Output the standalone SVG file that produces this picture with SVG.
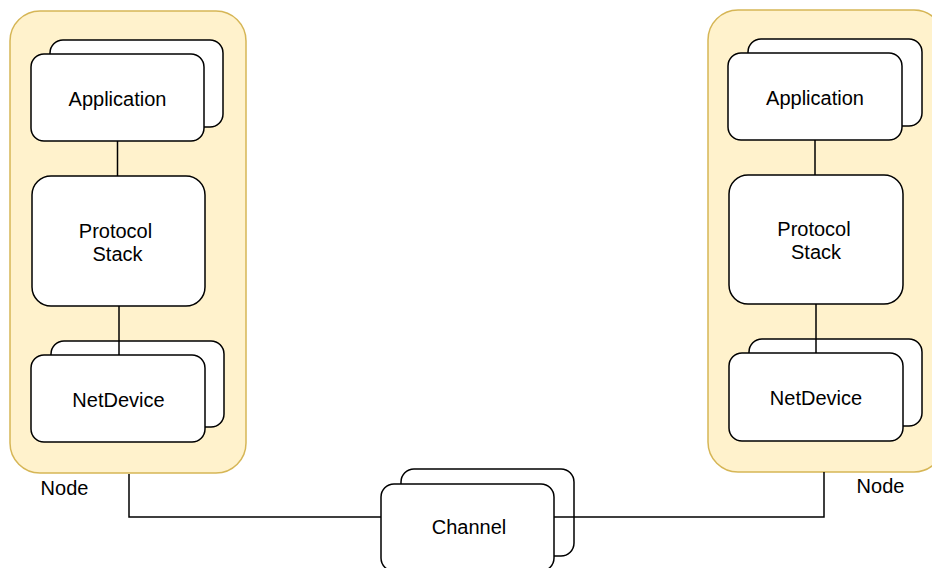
<svg xmlns="http://www.w3.org/2000/svg" width="932" height="568" viewBox="0 0 932 568">
<style>
.cont{fill:#fff2cc;stroke:#d6b656;stroke-width:1.5}
.box{fill:#ffffff;stroke:#000000;stroke-width:1.5}
.ln{fill:none;stroke:#000000;stroke-width:1.5}
text{font-family:"Liberation Sans",Arial,Helvetica,sans-serif;font-size:20px;fill:#000000;text-anchor:middle}
</style>
<rect width="932" height="568" fill="#ffffff"/>
<g id="node-left">
<rect class="cont" x="10" y="11" width="236" height="462" rx="30"/>
<text x="64.5" y="495">Node</text>
</g>
<g id="node-right">
<rect class="cont" x="708" y="10" width="236" height="462" rx="30"/>
<text x="880.5" y="493">Node</text>
</g>
<g id="connectors">
<line class="ln" x1="117.5" y1="141" x2="117.5" y2="176"/>
<line class="ln" x1="119" y1="306" x2="119" y2="355"/>
<line class="ln" x1="815" y1="140" x2="815" y2="175"/>
<line class="ln" x1="816" y1="304" x2="816" y2="353"/>
<polyline class="ln" points="129,474 129,517 381,517"/>
<polyline class="ln" points="554,517 824,517 824,472"/>
</g>
<g id="app-left">
<rect class="box" x="50" y="40" width="173" height="87" rx="13"/>
<rect class="box" x="31" y="54" width="173" height="87" rx="13"/>
<text x="117.5" y="106">Application</text>
</g>
<g id="stack-left">
<rect class="box" x="32" y="176" width="173" height="130" rx="19"/>
<text x="115.5" y="238">Protocol</text>
<text x="117.5" y="261">Stack</text>
</g>
<g id="netdev-left">
<rect class="box" x="51" y="341" width="173" height="86" rx="13"/>
<rect class="box" x="31" y="355" width="174" height="87" rx="13"/>
<line class="ln" x1="119" y1="341" x2="119" y2="355"/>
<text x="118.5" y="407">NetDevice</text>
</g>
<g id="app-right">
<rect class="box" x="748" y="39" width="174" height="87" rx="13"/>
<rect class="box" x="728" y="53" width="174" height="87" rx="13"/>
<text x="815" y="105">Application</text>
</g>
<g id="stack-right">
<rect class="box" x="729" y="175" width="174" height="129" rx="19"/>
<text x="814" y="236">Protocol</text>
<text x="816" y="259">Stack</text>
</g>
<g id="netdev-right">
<rect class="box" x="749" y="339" width="173" height="87" rx="13"/>
<rect class="box" x="729" y="353" width="174" height="88" rx="13"/>
<line class="ln" x1="816" y1="339" x2="816" y2="353"/>
<text x="816" y="405">NetDevice</text>
</g>
<g id="channel">
<rect class="box" x="401" y="469" width="173" height="87" rx="13"/>
<rect class="box" x="381" y="484" width="173" height="87" rx="13"/>
<line class="ln" x1="554" y1="517" x2="574" y2="517"/>
<text x="469" y="534">Channel</text>
</g>
</svg>
